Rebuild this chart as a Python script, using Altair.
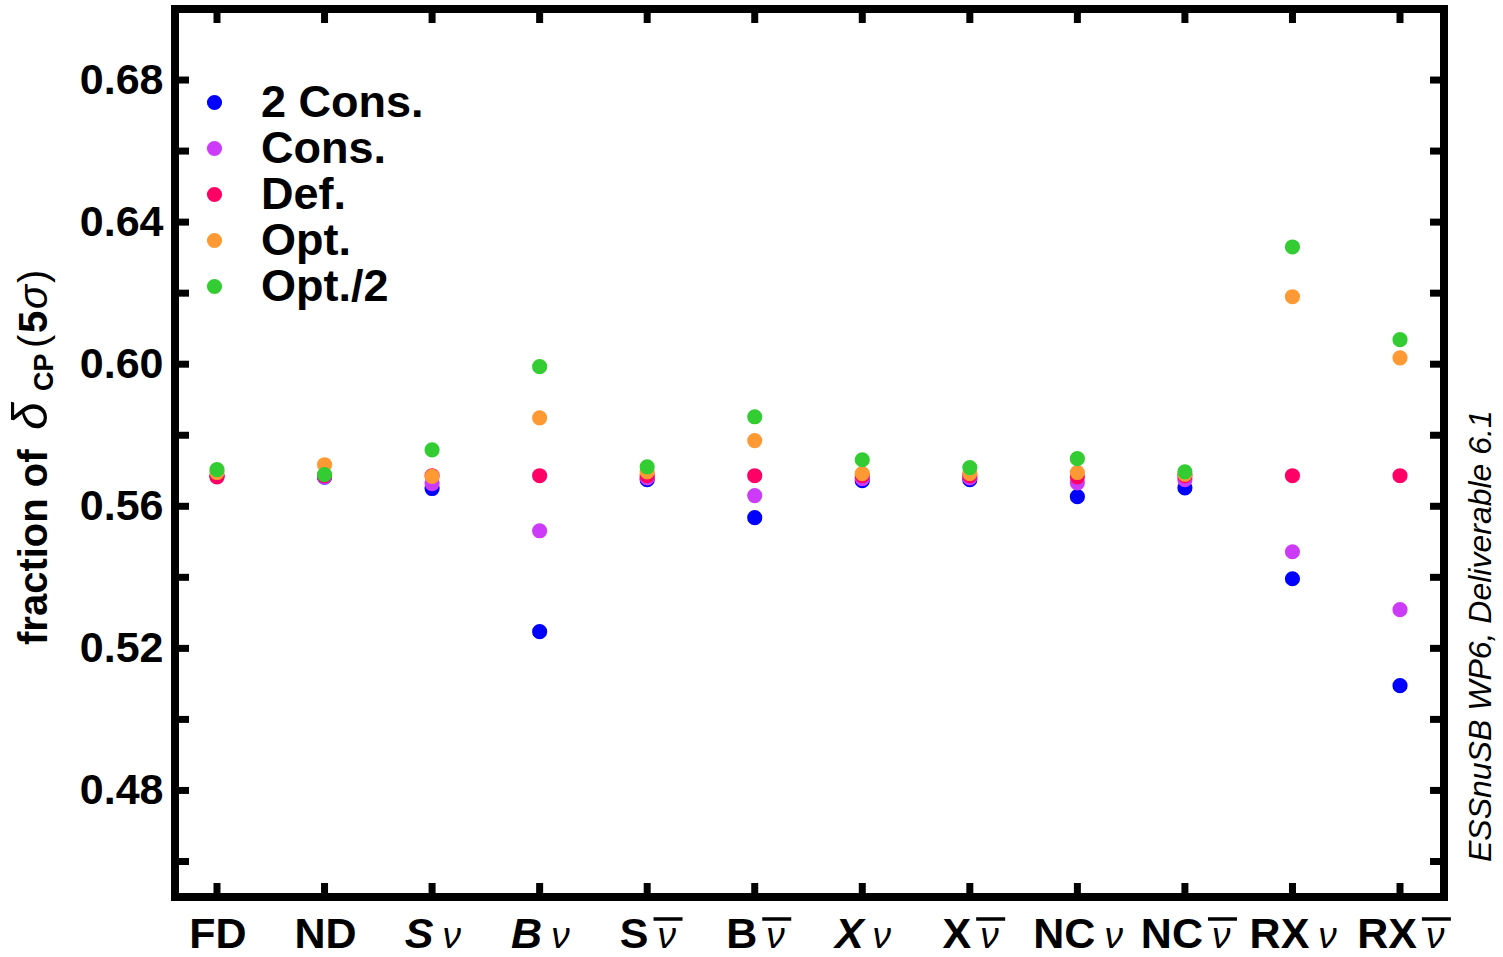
import altair as alt
import pandas as pd

# ---- data -------------------------------------------------------------
label_main = ["FD", "ND", "S", "B", "S", "B", "X", "X", "NC", "NC", "RX", "RX"]
label_italic = [False, False, True, True, False, False, True, False, False, False, False, False]
# 0: no neutrino symbol, 1: ν, 2: ν̄
label_nu = [0, 0, 1, 1, 2, 2, 1, 2, 1, 2, 1, 2]

series = ["2 Cons.", "Cons.", "Def.", "Opt.", "Opt./2"]
colors = ["#0000ff", "#cc3cf8", "#ff0066", "#ff9933", "#33cc33"]

two_cons = [0.5685, 0.5682, 0.5650, 0.5247, 0.5675, 0.5568, 0.5672, 0.5675, 0.5627, 0.5652, 0.5396, 0.5095]
cons     = [0.5685, 0.5683, 0.5664, 0.5531, 0.5680, 0.5630, 0.5678, 0.5680, 0.5666, 0.5675, 0.5472, 0.5309]
default  = [0.5683, 0.5686, 0.5686, 0.5686, 0.5686, 0.5686, 0.5686, 0.5686, 0.5683, 0.5686, 0.5686, 0.5686]
opt      = [0.5695, 0.5717, 0.5684, 0.5849, 0.5697, 0.5785, 0.5692, 0.5692, 0.5695, 0.5690, 0.6190, 0.6018]
opt_half = [0.5703, 0.5689, 0.5759, 0.5993, 0.5711, 0.5852, 0.5731, 0.5709, 0.5734, 0.5697, 0.6330, 0.6069]

y_labels = [0.48, 0.52, 0.56, 0.60, 0.64, 0.68]
y_ticks = [0.46, 0.48, 0.50, 0.52, 0.54, 0.56, 0.58, 0.60, 0.62, 0.64, 0.66, 0.68]

# ---- layout -----------------------------------------------------------
W, H = 1269, 888
X_DOM = [0.6095, 12.409]
Y_DOM = [0.45, 0.70]
PX = W / (X_DOM[1] - X_DOM[0])
FONT = "Liberation Sans"
TICK = 14

values = [two_cons, cons, default, opt, opt_half]
rows = []
for s, vals in zip(series, values):
    for i, v in enumerate(vals):
        rows.append({"idx": i + 1, "series": s, "value": v})
points_df = pd.DataFrame(rows)

# category label pieces: bold prefix followed by an italic ν (optionally barred)
adv = {"F": 0.611, "D": 0.722, "N": 0.722, "S": 0.667, "B": 0.722,
       "X": 0.667, "C": 0.722, "R": 0.722}
FS_MAIN, FS_NU, GAP, NU_W = 43, 37, 9, 19
lab_rows = []
for i, (m, it, nu) in enumerate(zip(label_main, label_italic, label_nu)):
    pw = sum(adv[c] for c in m) * FS_MAIN
    total = pw + (GAP + NU_W if nu else 0)
    right = -total / 2 + pw + 1
    left_nu = right + GAP
    lab_rows.append({
        "idx": i + 1,
        "main": m,
        "italic": it,
        "nu": "ν" if nu else "",
        "bar": nu == 2,
        "xp": i + 1 + right / PX,
        "xn": i + 1 + left_nu / PX,
        "b1": i + 1 + (left_nu - 4) / PX,
        "b2": i + 1 + (left_nu + NU_W + 6) / PX,
    })
labels_df = pd.DataFrame(lab_rows)
ticks_df = pd.DataFrame({"value": y_ticks})
cats_df = pd.DataFrame({"idx": list(range(1, len(label_main) + 1))})

x_scale = alt.Scale(domain=X_DOM, nice=False, zero=False)
y_scale = alt.Scale(domain=Y_DOM, nice=False, zero=False)

points = alt.Chart(points_df).mark_circle(size=230, opacity=1).encode(
    x=alt.X("idx:Q", scale=x_scale, axis=None),
    y=alt.Y("value:Q", scale=y_scale, title=None,
            axis=alt.Axis(values=y_labels, format=".2f", grid=False, domain=False,
                          ticks=False, tickSize=0, labelPadding=12,
                          labelFont=FONT, labelFontSize=43, labelFontWeight="bold",
                          labelColor="black")),
    color=alt.Color("series:N",
                    scale=alt.Scale(domain=series, range=colors),
                    sort=series,
                    legend=alt.Legend(orient="none", legendX=17, legendY=71, title=None,
                                      labelFont=FONT, labelFontSize=45,
                                      labelFontWeight="bold", labelColor="black",
                                      labelLimit=0,
                                      symbolType="circle", symbolSize=230,
                                      symbolStrokeWidth=0, labelOffset=24,
                                      rowPadding=0, padding=0)),
)

tick_base = alt.Chart(ticks_df).mark_rule(color="black", strokeWidth=7)
left_ticks = tick_base.encode(y=alt.Y("value:Q", scale=y_scale), x=alt.value(0), x2=alt.value(TICK))
right_ticks = tick_base.encode(y=alt.Y("value:Q", scale=y_scale), x=alt.value(W - TICK), x2=alt.value(W))

cat_base = alt.Chart(cats_df).mark_rule(color="black", strokeWidth=7)
bottom_ticks = cat_base.encode(x=alt.X("idx:Q", scale=x_scale), y=alt.value(H - TICK), y2=alt.value(H))
top_ticks = cat_base.encode(x=alt.X("idx:Q", scale=x_scale), y=alt.value(0), y2=alt.value(TICK))

lab_base = alt.Chart(labels_df)
main_upright = lab_base.transform_filter("!datum.italic").mark_text(
    font=FONT, fontSize=FS_MAIN, fontWeight="bold", align="right", baseline="alphabetic",
    color="black").encode(x=alt.X("xp:Q", scale=x_scale), y=alt.value(H + 51), text="main:N")
main_italic = lab_base.transform_filter("datum.italic").mark_text(
    font=FONT, fontSize=FS_MAIN, fontWeight="bold", fontStyle="italic", align="right",
    baseline="alphabetic", color="black").encode(
    x=alt.X("xp:Q", scale=x_scale), y=alt.value(H + 51), text="main:N")
nu_text = lab_base.transform_filter("datum.nu != ''").mark_text(
    font=FONT, fontSize=FS_NU, fontStyle="italic", align="left", baseline="alphabetic",
    color="black").encode(x=alt.X("xn:Q", scale=x_scale), y=alt.value(H + 51), text="nu:N")
nu_bar = lab_base.transform_filter("datum.bar").mark_rule(color="black", strokeWidth=3.5).encode(
    x=alt.X("b1:Q", scale=x_scale), x2="b2:Q", y=alt.value(H + 22))

# rotated y-axis title: fraction of δ_CP (5σ)
title_parts = [
    ("fraction of", 636, -128, 40, "bold", "normal"),
    ("δ", 421, -128, 50, "normal", "italic"),
    ("CP", 382, -122, 27, "bold", "normal"),
    ("(", 339, -128, 40, "normal", "normal"),
    ("5", 324, -128, 40, "bold", "normal"),
    ("σ", 300, -128, 40, "normal", "italic"),
    (")", 274, -128, 40, "normal", "normal"),
]
title_layers = []
for txt, ty, tx, fs, fw, fst in title_parts:
    title_layers.append(
        alt.Chart(pd.DataFrame({"t": [txt]})).mark_text(
            font=FONT, fontSize=fs, fontWeight=fw, fontStyle=fst, angle=270,
            align="left", baseline="alphabetic", color="black").encode(
            x=alt.value(tx), y=alt.value(ty), text="t:N"))

note = alt.Chart(pd.DataFrame({"t": ["ESSnuSB WP6, Deliverable 6.1"]})).mark_text(
    font=FONT, fontSize=32, fontStyle="italic", angle=270, align="left",
    baseline="alphabetic", color="black").encode(
    x=alt.value(1316), y=alt.value(853), text="t:N")

chart = alt.layer(
    points, left_ticks, right_ticks, bottom_ticks, top_ticks,
    main_upright, main_italic, nu_text, nu_bar, note, *title_layers
).properties(
    width=W, height=H,
    autosize=alt.AutoSizeParams(type="none"),
    padding={"left": 175, "top": 9, "right": 59, "bottom": 60},
).configure_view(stroke="black", strokeWidth=8)

chart.save("out.html", embed_options={"renderer": "svg", "actions": False})
